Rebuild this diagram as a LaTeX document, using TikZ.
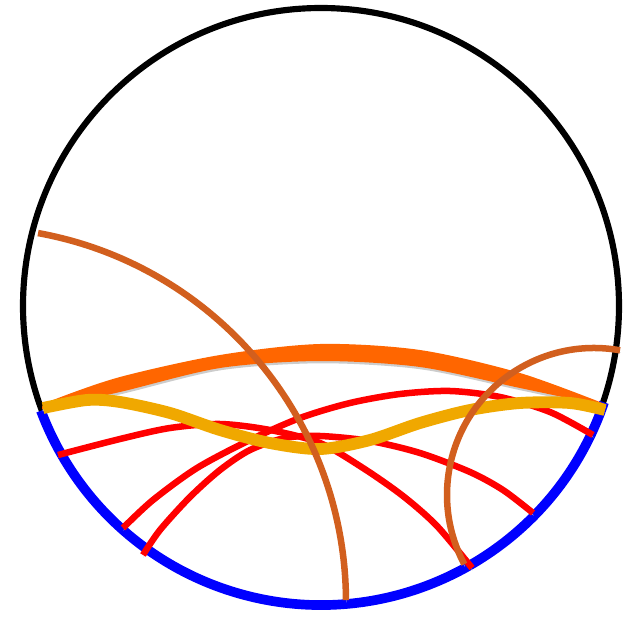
\documentclass[tikz,border=0pt]{standalone}
\usepackage{xcolor}
\usepackage{tikz}

\definecolor{bandorange}{RGB}{255,102,0}
\definecolor{wavyellow}{RGB}{240,168,0}
\definecolor{arcbrown}{RGB}{210,95,30}
\definecolor{rimblue}{RGB}{0,0,255}
\definecolor{chordred}{RGB}{255,0,0}

\tikzset{
  shadowed/.style={preaction={draw=black!22,transform canvas={shift={(0.6pt,-2.6pt)}}}},
  rim/.style={draw=black,line width=7pt},
  bluerim/.style={draw=rimblue,line width=11pt,shadowed},
  redchord/.style={draw=chordred,line width=7.4pt,shadowed},
  browncurve/.style={draw=arcbrown,line width=7.4pt,shadowed},
  yellowwave/.style={draw=wavyellow,line width=13.5pt,shadowed},
  orangeband/.style={fill=bandorange}
}

\begin{document}
\begin{tikzpicture}[x=0.04cm,y=-0.04cm]
  \useasboundingbox (0,0) rectangle (633,621);
  % disk and its lower boundary
  \coordinate (o) at (321,306);
  \draw[rim,preaction={draw=black!18,transform canvas={shift={(0.6pt,-2pt)}}}] (o) circle[radius=298];
  \draw[bluerim] (o) ++(18.8:299) arc[start angle=18.8,end angle=159.5,radius=299];
  % red chords
  \draw[redchord] plot[smooth] coordinates {(58,455) (120,439) (170,428) (220,424) (270,430) (320,443) (363,468) (403,496) (437,526) (472,568)};
  \draw[redchord] plot[smooth] coordinates {(123,528) (153,500) (197,468) (250,440) (300,418) (350,403) (400,394) (450,391) (500,397) (550,412) (593,435)};
  \draw[redchord] plot[smooth] coordinates {(143,555) (160,530) (190,497) (220,470) (250,450) (285,438) (320,436) (370,441) (420,453) (470,472) (503,490) (533,513)};
  % orange band
  \fill[orangeband,preaction={fill=black!20,transform canvas={shift={(0.6pt,-2.6pt)}}}]
    plot[smooth] coordinates {(42,407) (53,400) (120,377) (220,355) (320,344) (420,350) (520,373) (605,404)}
    -- plot[smooth] coordinates {(605,406) (520,388) (420,367) (320,361) (220,368) (120,392) (42,409)} -- cycle;
  % yellow wave
  \draw[yellowwave] plot[smooth] coordinates {(43,408) (87,400) (120,402) (170,413) (220,430) (270,443) (320,449) (370,440) (420,423) (470,410) (520,403) (570,403) (605,410)};
  % brown arcs
  \coordinate (c1) at (-29,602);
  \coordinate (c2) at (594,495);
  \draw[browncurve] (c1) ++(-79.7:375) arc[start angle=-79.7,end angle=-0.3,radius=375];
  \draw[browncurve] (c2) ++(-79.8:147) arc[start angle=-79.8,end angle=-208.1,radius=147];
\end{tikzpicture}
\end{document}
